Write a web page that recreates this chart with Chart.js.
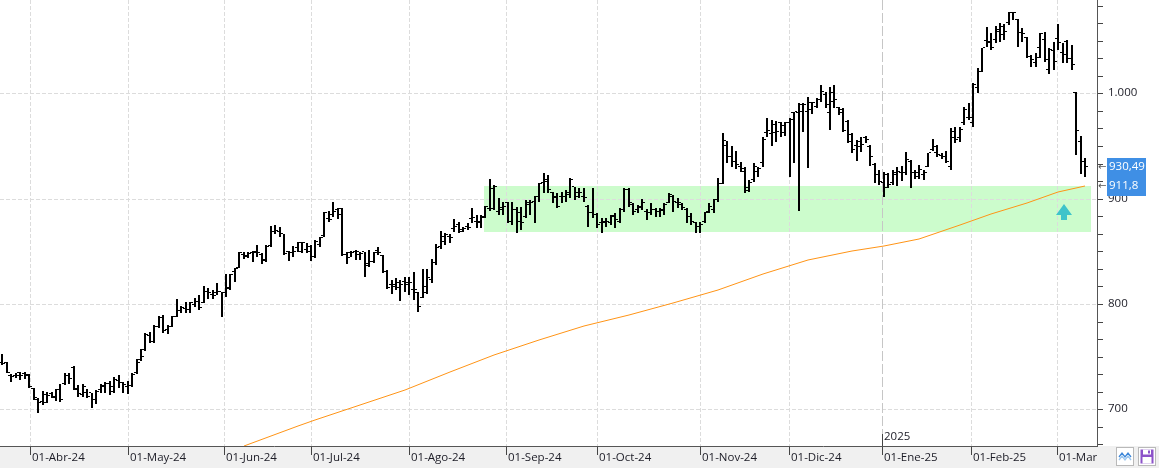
<!DOCTYPE html>
<html><head><meta charset="utf-8">
<script src="https://cdn.jsdelivr.net/npm/chart.js@4.4.0/dist/chart.umd.min.js"></script>
<style>
html,body{margin:0;padding:0;background:#fff;overflow:hidden}
#wrap{position:relative;width:1159px;height:468px}
canvas{display:block}
.btn{position:absolute;top:447px;width:18px;height:19px;box-sizing:border-box;border:1px solid #b9b9b9;background:#fff}
.btn svg{position:absolute;left:0;top:0}
</style></head><body>
<div id="wrap"><canvas id="c" width="1159" height="468"></canvas>
<div class="btn" style="left:1116px"><svg width="16" height="17"><polyline points="2,9 5,5 8,9 11,5 14,9" stroke="#3d86d8" stroke-width="1.3" fill="none"/><polyline points="2,12 5,8 8,12 11,8 14,12" stroke="#9cc6ee" stroke-width="1.3" fill="none"/></svg></div>
<div class="btn" style="left:1138px"><svg width="16" height="17"><rect x="1.5" y="1.5" width="13" height="14" fill="#8c52c9"/><rect x="4" y="1.5" width="8" height="5" fill="#fff"/><rect x="9" y="2.5" width="2" height="3" fill="#8c52c9"/><rect x="3.5" y="9" width="9" height="6.5" fill="#fff"/></svg></div>
</div>
<script>
// ---- data ----
const opens = [
743.6,744.3,731.9,731.6,734.2,733.5,732.6,719.6,708.8,707.3,
713.6,714.2,711.4,718.3,724.0,731.6,739.5,718.3,713.6,715.2,
715.2,708.8,718.3,721.5,724.0,716.1,727.2,724.7,721.5,722.1,
734.2,746.8,756.3,769.6,764.2,778.4,786.4,775.3,778.4,787.3,
793.6,794.9,794.3,799.0,802.2,801.2,811.7,808.5,810.1,811.0,
810.1,813.9,830.6,833.8,846.5,845.5,848.1,848.7,846.5,841.1,
855.0,868.0,868.0,866.0,849.4,848.7,853.0,849.7,851.3,854.4,
844.3,856.0,864.6,880.7,884.5,889.2,890.5,846.5,848.1,849.7,
846.5,849.0,836.4,840.2,850.3,845.6,830.7,818.0,816.5,819.6,
821.2,818.0,813.3,810.1,806.0,810.1,822.8,839.2,854.4,863.9,
863.9,870.9,875.0,870.3,873.4,880.4,877.5,876.6,882.9,889.9,
890.2,887.7,890.8,896.2,878.2,889.2,878.2,882.9,894.0,897.1,
901.9,914.6,917.7,905.1,900.3,901.9,901.9,905.1,910.8,905.1,
901.9,892.4,886.1,884.5,876.6,876.6,876.6,883.5,878.2,889.2,
908.2,894.0,889.2,892.4,887.7,886.1,889.2,887.7,889.2,896.2,
901.9,896.2,894.0,889.2,882.9,876.6,873.4,878.2,887.7,889.2,
898.7,913.9,950.0,940.0,935.0,930.0,925.0,910.0,918.0,925.0,
934.1,962.6,961.4,969.9,971.5,962.0,972.1,981.0,981.0,982.6,
982.6,984.1,987.3,993.6,998.4,981.0,992.1,985.7,984.1,973.1,
960.4,950.0,949.3,957.2,948.7,931.9,922.4,915.2,922.4,915.2,
922.4,924.0,924.0,935.1,924.0,924.0,922.4,930.4,946.2,943.0,
940.5,939.8,930.4,957.2,957.2,971.5,976.2,971.5,1004.7,1020.5,
1049.9,1047.4,1050.5,1058.4,1055.3,1066.4,1075.8,1069.5,1056.9,1052.1,
1034.7,1028.4,1042.6,1050.5,1022.1,1040.0,1051.2,1037.9,1049.0,1032.2,
1000.0,954.0,935.0];
const highs = [
752.5,744.9,733.5,734.2,735.7,735.1,733.5,720.6,710.4,717.4,
716.7,716.7,719.0,724.0,734.2,734.2,741.1,723.1,724.0,719.3,
715.8,718.3,724.0,726.2,727.2,731.0,732.6,726.2,727.2,734.2,
747.4,756.9,772.1,773.7,780.0,788.9,789.5,780.0,788.6,804.4,
798.1,802.2,802.2,806.0,808.5,817.0,814.8,813.2,819.6,811.7,
828.1,828.1,833.8,849.6,849.6,849.6,850.6,856.0,848.1,856.0,
874.0,875.0,873.0,866.4,850.6,855.1,858.5,859.2,858.2,856.0,
860.8,863.9,887.7,888.6,897.1,890.8,890.8,849.7,850.3,851.3,
849.7,849.7,851.3,849.7,854.4,846.5,832.3,822.8,824.4,822.8,
825.3,826.0,830.7,811.7,832.9,833.5,842.4,857.0,869.6,867.7,
866.4,880.4,878.2,873.4,877.2,890.8,884.5,884.5,893.0,918.3,
913.0,900.3,897.1,897.1,897.1,892.4,892.4,898.7,898.7,902.5,
915.2,924.1,922.5,906.6,905.1,906.6,908.2,919.3,911.4,909.8,
909.8,894.0,909.8,886.1,881.3,881.3,884.5,886.7,890.8,909.8,
909.8,895.6,894.0,899.4,889.9,895.6,890.8,890.8,895.6,905.1,
903.5,900.3,896.2,890.8,886.1,878.2,878.2,887.7,896.2,899.4,
919.3,962.6,955.0,950.0,945.0,935.0,930.0,917.7,933.5,930.4,
958.8,976.2,974.6,973.7,973.1,973.1,976.2,982.6,991.1,990.5,
996.8,992.1,995.2,1007.9,1001.5,1006.3,1007.9,987.3,985.7,974.6,
962.0,955.7,958.8,959.5,950.9,933.5,927.2,925.6,924.0,927.2,
930.4,931.0,944.6,936.7,927.2,931.9,927.2,943.6,956.3,950.9,
943.0,945.5,966.7,968.3,968.3,987.3,990.5,1009.5,1023.7,1042.6,
1062.6,1056.9,1063.8,1066.4,1065.7,1077.4,1077.4,1070.2,1061.6,1053.1,
1036.3,1037.9,1056.9,1058.4,1042.6,1049.0,1065.7,1047.4,1050.5,1045.8,
1001.5,959.4,938.2];
const lows = [
742.1,734.2,726.2,729.4,727.8,728.8,719.9,708.8,696.8,704.1,
705.7,710.4,708.2,707.3,723.1,724.0,718.3,712.0,712.0,710.4,
701.6,705.0,715.2,715.2,713.6,715.2,719.9,715.2,714.5,720.9,
733.5,746.2,755.7,762.6,762.6,776.9,772.7,771.2,778.4,787.3,
791.1,791.7,791.7,796.8,794.3,800.6,804.7,804.4,808.5,787.9,
806.9,813.2,821.2,833.8,842.4,843.3,839.5,844.9,837.6,840.1,
854.4,866.0,864.0,846.5,841.1,844.9,849.0,848.1,848.1,841.1,
843.3,854.4,863.9,877.5,882.9,880.4,845.6,838.0,844.3,841.8,
841.8,825.3,835.4,838.6,846.5,829.8,813.9,809.5,813.3,803.2,
811.7,808.5,803.8,792.7,805.4,809.5,820.3,837.0,851.9,856.0,
858.2,868.7,867.7,868.0,870.3,876.6,872.5,871.8,881.3,888.6,
889.2,884.5,884.5,876.6,875.0,867.7,870.3,881.3,884.5,877.2,
897.1,905.1,905.1,895.6,890.8,895.6,897.1,900.3,898.7,900.3,
897.1,873.4,881.3,871.8,867.1,873.4,875.0,871.8,876.6,887.7,
892.4,884.5,886.1,889.2,879.7,884.5,882.9,882.9,884.5,895.6,
887.7,890.8,889.2,876.6,875.0,867.1,867.1,876.6,886.1,886.1,
897.1,913.9,934.0,930.0,928.0,925.0,905.0,906.6,916.1,920.9,
929.7,958.2,950.0,954.1,958.2,959.5,920.2,933.5,888.6,963.6,
928.8,980.3,985.7,992.1,985.7,965.2,985.7,979.4,963.6,953.1,
943.6,936.0,944.6,953.1,931.0,914.5,912.9,901.9,909.8,913.0,
912.0,917.1,922.4,909.8,918.3,918.3,917.7,929.7,945.5,939.8,
937.3,933.5,927.2,952.5,954.1,969.9,974.6,968.3,1000.0,1020.5,
1043.6,1041.0,1048.0,1049.0,1050.5,1064.8,1069.5,1044.2,1049.0,1033.1,
1025.2,1025.2,1033.1,1030.0,1018.3,1022.0,1041.0,1028.4,1028.4,1022.1,
941.4,923.3,920.8];
const closes = [
742.7,734.8,731.0,731.6,731.9,731.6,720.9,710.4,705.7,706.3,
713.0,711.1,718.3,708.8,731.6,728.8,719.3,714.2,720.9,712.0,
708.8,716.1,722.1,724.0,721.5,727.8,724.7,723.1,722.1,732.6,
743.6,750.0,770.5,764.2,778.4,786.4,774.6,778.4,787.3,793.6,
795.8,794.3,800.6,802.2,796.5,811.7,810.1,807.5,811.7,810.1,
814.8,827.5,832.9,848.7,844.9,847.4,849.6,848.1,841.7,854.4,
868.6,869.0,866.0,847.4,848.7,849.6,857.5,857.6,849.7,844.3,
859.2,862.3,886.1,879.7,887.7,884.5,846.2,843.3,848.7,849.7,
847.1,838.0,840.2,848.1,848.7,830.7,814.9,818.0,814.9,818.0,
819.6,819.6,813.3,797.5,816.5,824.4,839.2,852.9,859.2,865.5,
862.3,872.8,868.7,870.9,871.8,881.3,878.2,881.3,892.4,908.9,
911.4,889.2,892.4,878.2,889.2,886.1,876.6,895.6,895.6,901.3,
913.9,916.1,908.2,901.9,892.4,901.3,903.5,917.7,901.9,905.1,
900.3,886.1,884.5,875.0,878.2,878.2,882.3,879.7,889.2,908.2,
895.6,887.7,890.8,895.6,886.1,889.2,887.7,888.6,894.0,903.5,
897.1,895.6,890.8,882.9,878.2,873.4,875.0,886.1,892.4,898.7,
913.9,955.0,940.0,935.0,932.0,928.0,907.0,915.0,930.0,928.0,
955.7,964.5,962.0,963.6,969.0,971.5,974.6,981.9,988.9,988.9,
991.1,990.5,993.6,1001.5,988.9,1000.0,993.6,981.0,964.5,954.1,
946.2,954.1,950.9,955.7,939.2,922.4,916.1,909.8,913.0,924.0,
925.6,924.0,936.7,924.0,920.9,927.2,924.0,943.0,948.7,941.4,
939.8,935.1,963.6,955.7,965.2,984.1,976.2,1007.9,1020.5,1042.6,
1049.0,1042.6,1060.0,1063.2,1058.4,1076.5,1075.8,1056.9,1056.2,1034.1,
1031.5,1033.1,1055.9,1031.5,1041.0,1030.0,1047.4,1036.3,1032.2,1026.8,
964.2,935.0,930.49];
// moving average read at these bar positions
const maIdx  = [54, 60, 66, 70, 80, 90, 100, 110, 120, 130, 140, 150, 160, 170, 180, 190, 197, 205, 214, 221, 229, 236, 242];
const maVals = [665.5, 674.7, 684.1, 689.5, 704.1, 718.3, 735.4, 751.5, 765.8, 779.1, 789.6, 800.9, 813.3, 828.4, 841.7, 850.3, 855.5, 861.4, 875.0, 885.4, 896.1, 906.6, 911.8];
// month ticks (bar positions) and labels
const monthTickPos = [6.1, 28.1, 49.6, 69.0, 90.9, 112.6, 132.9, 155.9, 175.8, 196.6, 216.5, 235.7];
const monthLabels = ['01-Abr-24','01-May-24','01-Jun-24','01-Jul-24','01-Ago-24','01-Sep-24','01-Oct-24','01-Nov-24','01-Dic-24','01-Ene-25','01-Feb-25','01-Mar-25'];
const yearTickIndex = 9;
const yearLabel = '2025';
const yMajorTicks = [700, 800, 900, 1000];
const yTickLabels = ['700', '800', '900', '1.000'];
const zoneRange = [107.7, 243.3];
const zoneValues = [868.0, 912.3];
const arrowAt = 237.3;
const arrowValues = [879.4, 894.6];
const lastValues = [930.49, 911.8];
const lastLabels = ['930,49', '911,8'];

// ---- chart ----
const FONT = "'Open Sans', sans-serif";
Chart.defaults.font.family = FONT;
Chart.defaults.font.size = 11.5;
Chart.defaults.color = '#1c1c26';

const X_MIN = -0.514, X_MAX = 244.68, Y_MIN = 665.2, Y_MAX = 1088.6;

function tickCanvas(side) {
  const c = document.createElement('canvas');
  c.width = 6; c.height = 2;
  const g = c.getContext('2d');
  g.fillStyle = '#000';
  g.fillRect(side === 'L' ? 0 : 4, 0, 2, 1);
  return c;
}
const isMajor = v => yMajorTicks.some(m => Math.abs(m - v) < 1e-6);

const idx = opens.map((_, i) => i);
const hlData = idx.map(i => ({x: i, y: [lows[i], highs[i]]}));
const openData = idx.map(i => ({x: i, y: opens[i]}));
const closeData = idx.map(i => ({x: i, y: closes[i]}));
const maData = maIdx.map((x, i) => ({x: x, y: maVals[i]}));

const custom = {
  id: 'custom',
  afterLayout(chart) {
    const xs = chart.scales.x;
    if (!xs._clipWrapped) {
      const orig = xs.drawLabels.bind(xs);
      xs.drawLabels = function (area) {
        const c = chart.ctx;
        c.save();
        c.beginPath();
        c.rect(0, 0, chart.chartArea.right, chart.height);
        c.clip();
        orig(area);
        c.restore();
      };
      xs._clipWrapped = true;
    }
  },
  beforeDraw(chart) {
    const {ctx, chartArea: a} = chart;
    const xs = chart.scales.x, ys = chart.scales.y;
    ctx.save();
    ctx.fillStyle = '#fff';
    ctx.fillRect(0, 0, chart.width, chart.height);
    ctx.fillStyle = '#f0f0f0';
    ctx.fillRect(0, a.bottom, chart.width, chart.height - a.bottom);
    const x1 = xs.getPixelForValue(zoneRange[0]), x2 = xs.getPixelForValue(zoneRange[1]);
    const y1 = ys.getPixelForValue(zoneValues[1]), y2 = ys.getPixelForValue(zoneValues[0]);
    ctx.fillStyle = '#ccfccc';
    ctx.fillRect(x1, y1, x2 - x1, y2 - y1);
    ctx.restore();
  },
  beforeDatasetsDraw(chart) {
    const {ctx, chartArea: a} = chart;
    const px = Math.round(chart.scales.x.getPixelForValue(monthTickPos[yearTickIndex])) + 0.5;
    ctx.save();
    ctx.strokeStyle = '#c6c6c6';
    ctx.lineWidth = 1;
    ctx.setLineDash([10, 3]);
    ctx.beginPath();
    ctx.moveTo(px, a.top);
    ctx.lineTo(px, a.bottom);
    ctx.stroke();
    ctx.restore();
  },
  afterDatasetsDraw(chart) {
    const {ctx, chartArea: a} = chart;
    const xs = chart.scales.x, ys = chart.scales.y;
    ctx.save();
    // arrow
    const ax = xs.getPixelForValue(arrowAt);
    const yt = ys.getPixelForValue(arrowValues[1]), yb = ys.getPixelForValue(arrowValues[0]);
    const hh = (yb - yt) * 0.68;
    ctx.fillStyle = '#3ec4ca';
    ctx.beginPath();
    ctx.moveTo(ax, yt);
    ctx.lineTo(ax + 8, yt + hh);
    ctx.lineTo(ax + 3, yt + hh);
    ctx.lineTo(ax + 3, yb);
    ctx.lineTo(ax - 3, yb);
    ctx.lineTo(ax - 3, yt + hh);
    ctx.lineTo(ax - 8, yt + hh);
    ctx.closePath();
    ctx.fill();
    // year marker on the axis
    const yx = Math.round(xs.getPixelForValue(monthTickPos[yearTickIndex])) + 0.5;
    ctx.strokeStyle = '#444';
    ctx.lineWidth = 1;
    ctx.beginPath();
    ctx.moveTo(yx, a.bottom - 12);
    ctx.lineTo(yx, a.bottom);
    ctx.stroke();
    ctx.fillStyle = '#1c1c26';
    ctx.font = "11.5px " + FONT;
    ctx.textBaseline = 'middle';
    ctx.textAlign = 'left';
    ctx.fillText(yearLabel, yx + 1.5, a.bottom - 9);
    ctx.restore();
  },
  afterDraw(chart) {
    const {ctx, chartArea: a} = chart;
    const ys = chart.scales.y;
    ctx.save();
    lastValues.forEach((v, i) => {
      const y = ys.getPixelForValue(v);
      ctx.fillStyle = '#3f8fe5';
      ctx.fillRect(a.right + 10, Math.round(y - 9.5), 39, 19);
      ctx.fillStyle = '#fff';
      ctx.font = "11.5px " + FONT;
      ctx.textBaseline = 'middle';
      ctx.textAlign = 'left';
      ctx.fillText(lastLabels[i], a.right + 12, y);
      ctx.fillStyle = '#555';
      ctx.font = "10px 'DejaVu Sans'";
      ctx.fillText('\u2190', a.right + 1, y);
    });
    ctx.restore();
  }
};

new Chart(document.getElementById('c'), {
  type: 'bar',
  data: {
    datasets: [
      {type: 'scatter', data: openData, pointStyle: tickCanvas('L'), pointRadius: 1, order: 1},
      {type: 'scatter', data: closeData, pointStyle: tickCanvas('R'), pointRadius: 1, order: 1},
      {type: 'bar', data: hlData, backgroundColor: '#000', borderWidth: 0, barThickness: 2, inflateAmount: 0, order: 2},
      {type: 'line', data: maData, borderColor: '#ff9416', borderWidth: 1, pointRadius: 0, fill: false, tension: 0, order: 3}
    ]
  },
  options: {
    responsive: false,
    animation: false,
    events: [],
    layout: {padding: 0, autoPadding: false},
    plugins: {legend: {display: false}, tooltip: {enabled: false}},
    scales: {
      x: {
        type: 'linear', position: 'bottom', min: X_MIN, max: X_MAX, offset: false, alignToPixels: true,
        afterBuildTicks: s => { s.ticks = monthTickPos.map(v => ({value: v})); },
        afterFit: s => { s.height = 22; s.paddingLeft = 0; s.paddingRight = 0; s.paddingTop = 0; s.paddingBottom = 0; },
        ticks: {autoSkip: false, maxRotation: 0, minRotation: 0, align: 'start', labelOffset: 2, padding: -4,
                callback: (v, i) => monthLabels[i]},
        grid: {offset: false, color: c => (c.index === yearTickIndex ? 'rgba(0,0,0,0)' : '#dcdcdc'), tickColor: '#444', tickLength: 9, lineWidth: 1},
        border: {display: true, color: '#555', dash: [4, 2]}
      },
      y: {
        type: 'linear', position: 'right', min: Y_MIN, max: Y_MAX, alignToPixels: true,
        afterBuildTicks: s => {
          const t = [];
          for (let m = 600; m <= 1100; m += 100) {
            for (let j = 0; j < 6; j++) {
              const v = m + j * 100 / 6;
              if (v >= Y_MIN && v <= Y_MAX) t.push({value: v});
            }
          }
          s.ticks = t;
        },
        afterFit: s => { s.width = 62; s.paddingTop = 0; s.paddingBottom = 0; s.paddingLeft = 0; s.paddingRight = 0; },
        ticks: {autoSkip: false, padding: 5,
                callback: v => { const k = yMajorTicks.findIndex(m => Math.abs(m - v) < 1e-6); return k < 0 ? '' : yTickLabels[k]; }},
        grid: {offset: false, color: c => (c.tick && !isMajor(c.tick.value) ? 'rgba(0,0,0,0)' : '#dcdcdc'), tickColor: '#444', tickLength: 6, lineWidth: 1},
        border: {display: true, color: '#555', dash: [4, 2]}
      }
    }
  },
  plugins: [custom]
});
</script>
</body></html>
